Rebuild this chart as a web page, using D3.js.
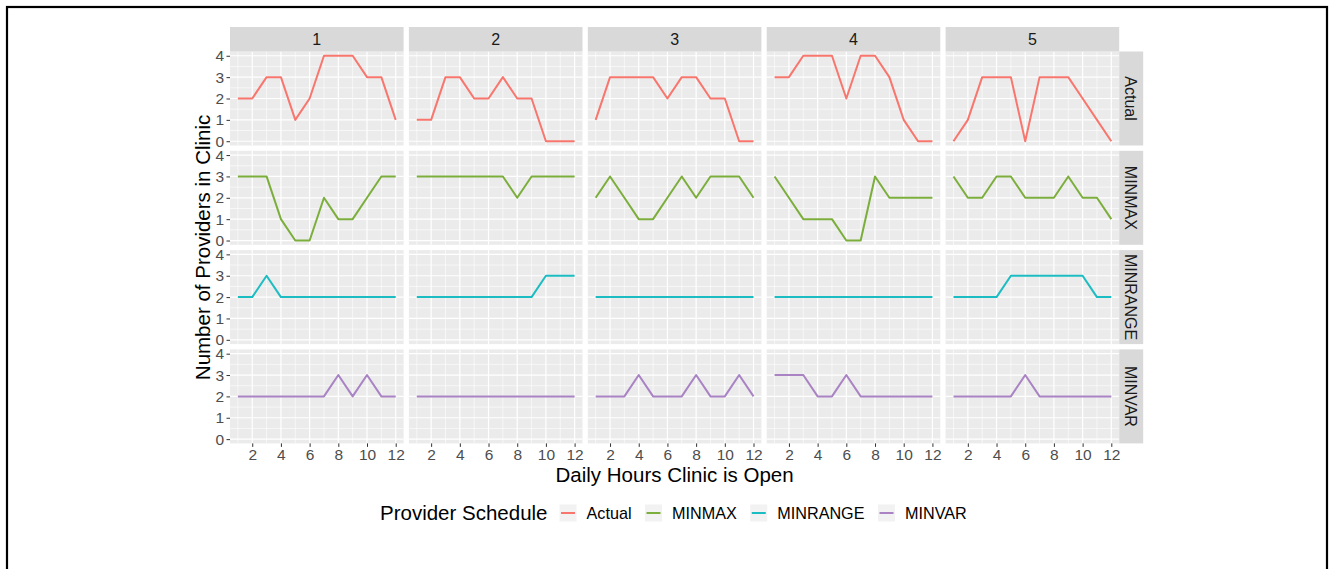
<!DOCTYPE html>
<html><head><meta charset="utf-8">
<script src="https://cdn.jsdelivr.net/npm/d3@7"></script>
<style>
body{margin:0;background:#fff;}
text{font-family:"Liberation Sans",Arial,Helvetica,sans-serif;}
</style>
</head><body>
<svg id="chart" width="1329" height="569"></svg>
<script>
// ---------- data ----------
const hours = [1,2,3,4,5,6,7,8,9,10,11,12];
const clinics = ["1","2","3","4","5"];
const schedules = ["Actual","MINMAX","MINRANGE","MINVAR"];
const colors = ["#F8766D","#7CAE3C","#1CBDC2","#A983C4"];
const xTicks = [2,4,6,8,10,12];
const yTicks = [0,1,2,3,4];

const actual = [
  [2,2,3,3,1,2,4,4,4,3,3,1],
  [1,1,3,3,2,2,3,2,2,0,0,0],
  [1,3,3,3,3,2,3,3,2,2,0,0],
  [3,3,4,4,4,2,4,4,3,1,0,0],
  [0,1,3,3,3,0,3,3,3,2,1,0]
];
const minmax = [
  [3,3,3,1,0,0,2,1,1,2,3,3],
  [3,3,3,3,3,3,3,2,3,3,3,3],
  [2,3,2,1,1,2,3,2,3,3,3,2],
  [3,2,1,1,1,0,0,3,2,2,2,2],
  [3,2,2,3,3,2,2,2,3,2,2,1]
];
const minrange = [
  [2,2,3,2,2,2,2,2,2,2,2,2],
  [2,2,2,2,2,2,2,2,2,3,3,3],
  [2,2,2,2,2,2,2,2,2,2,2,2],
  [2,2,2,2,2,2,2,2,2,2,2,2],
  [2,2,2,2,3,3,3,3,3,3,2,2]
];
const minvar = [
  [2,2,2,2,2,2,2,3,2,3,2,2],
  [2,2,2,2,2,2,2,2,2,2,2,2],
  [2,2,2,3,2,2,2,3,2,2,3,2],
  [3,3,3,2,2,3,2,2,2,2,2,2],
  [2,2,2,2,2,3,2,2,2,2,2,2]
];
const seriesBySchedule = [actual, minmax, minrange, minvar];

// ---------- layout ----------
const svg = d3.select("#chart");
const left0 = 230, top0 = 51.5;
const panelW = 173.6, panelH = 94, gapX = 5.3, gapY = 5.3;
const stripH = 24.5, stripW = 24;
const tickFont = "15.5px";

svg.append("rect").attr("x",7).attr("y",7).attr("width",1320).attr("height",620)
  .attr("fill","none").attr("stroke","#000").attr("stroke-width",2.2);

const x = d3.scaleLinear().domain([0.45,12.55]).range([0,panelW]);
const y = d3.scaleLinear().domain([-0.2,4.2]).range([panelH,0]);
const line = d3.line().x((d,i)=>x(hours[i])).y(d=>y(d));

const minorX = [1,3,5,7,9,11];
const minorY = [0.5,1.5,2.5,3.5];

schedules.forEach((s,r)=>{
  clinics.forEach((c,col)=>{
    const px = left0 + col*(panelW+gapX);
    const py = top0 + r*(panelH+gapY);
    const g = svg.append("g").attr("transform",`translate(${px},${py})`);
    g.append("rect").attr("width",panelW).attr("height",panelH).attr("fill","#EBEBEB");
    g.selectAll(".mx").data(minorX).join("line")
      .attr("x1",d=>x(d)).attr("x2",d=>x(d)).attr("y1",0).attr("y2",panelH)
      .attr("stroke","#fff").attr("stroke-width",0.6);
    g.selectAll(".my").data(minorY).join("line")
      .attr("y1",d=>y(d)).attr("y2",d=>y(d)).attr("x1",0).attr("x2",panelW)
      .attr("stroke","#fff").attr("stroke-width",0.6);
    g.selectAll(".Mx").data(xTicks).join("line")
      .attr("x1",d=>x(d)).attr("x2",d=>x(d)).attr("y1",0).attr("y2",panelH)
      .attr("stroke","#fff").attr("stroke-width",1.2);
    g.selectAll(".My").data(yTicks).join("line")
      .attr("y1",d=>y(d)).attr("y2",d=>y(d)).attr("x1",0).attr("x2",panelW)
      .attr("stroke","#fff").attr("stroke-width",1.2);
    g.append("path").datum(seriesBySchedule[r][col]).attr("d",line)
      .attr("fill","none").attr("stroke",colors[r]).attr("stroke-width",2)
      .attr("stroke-linejoin","round");

    if(col===0){
      const ax = g.append("g").call(d3.axisLeft(y).tickValues(yTicks).tickSize(3.5).tickPadding(2.5).tickFormat(d3.format("d")));
      ax.select(".domain").remove();
      ax.selectAll("line").attr("stroke","#333");
      ax.selectAll("text").attr("fill","#4D4D4D").style("font-size",tickFont).style("font-family","Liberation Sans, Arial, sans-serif");
    }
    if(r===schedules.length-1){
      const ax = g.append("g").attr("transform",`translate(0,${panelH})`)
        .call(d3.axisBottom(x).tickValues(xTicks).tickSize(3.5).tickPadding(2.5).tickFormat(d3.format("d")));
      ax.select(".domain").remove();
      ax.selectAll("line").attr("stroke","#333");
      ax.selectAll("text").attr("fill","#4D4D4D").style("font-size",tickFont).style("font-family","Liberation Sans, Arial, sans-serif");
    }
    if(r===0){
      svg.append("rect").attr("x",px).attr("y",top0-stripH).attr("width",panelW).attr("height",stripH).attr("fill","#D9D9D9");
      svg.append("text").attr("x",px+panelW/2).attr("y",top0-stripH/2).attr("dy","0.36em")
        .attr("text-anchor","middle").attr("fill","#1A1A1A").style("font-size","16px").text(c);
    }
    if(col===clinics.length-1){
      const sx = px+panelW;
      svg.append("rect").attr("x",sx).attr("y",py).attr("width",stripW).attr("height",panelH).attr("fill","#D9D9D9");
      svg.append("text").attr("transform",`translate(${sx+stripW/2},${py+panelH/2}) rotate(90)`)
        .attr("dy","0.36em").attr("text-anchor","middle").attr("fill","#1A1A1A").style("font-size","16px").text(s);
    }
  });
});

// axis titles
const plotRight = left0 + 5*panelW + 4*gapX;
const plotBottom = top0 + 4*panelH + 3*gapY;
svg.append("text").attr("x",(left0+plotRight)/2).attr("y",482).attr("text-anchor","middle")
  .attr("fill","#000").style("font-size","20.5px").text("Daily Hours Clinic is Open");
svg.append("text").attr("transform",`translate(210,${(top0+plotBottom)/2}) rotate(-90)`)
  .attr("text-anchor","middle").attr("fill","#000").style("font-size","20.5px").text("Number of Providers in Clinic");

// legend
const legY = 513;
const leg = svg.append("g");
const title = leg.append("text").attr("x",380).attr("y",legY).attr("dy","0.36em")
  .style("font-size","20.5px").attr("fill","#000").text("Provider Schedule");
let cx = 380 + title.node().getComputedTextLength() + 12;
schedules.forEach((s,i)=>{
  leg.append("rect").attr("x",cx).attr("y",legY-8.5).attr("width",17).attr("height",17).attr("fill","#F2F2F2");
  leg.append("line").attr("x1",cx+1.5).attr("x2",cx+15.5).attr("y1",legY).attr("y2",legY)
    .attr("stroke",colors[i]).attr("stroke-width",2);
  const t = leg.append("text").attr("x",cx+27).attr("y",legY).attr("dy","0.36em")
    .style("font-size","16.2px").attr("fill","#000").text(s);
  cx = cx + 27 + t.node().getComputedTextLength() + 13.5;
});
</script>
</body></html>
